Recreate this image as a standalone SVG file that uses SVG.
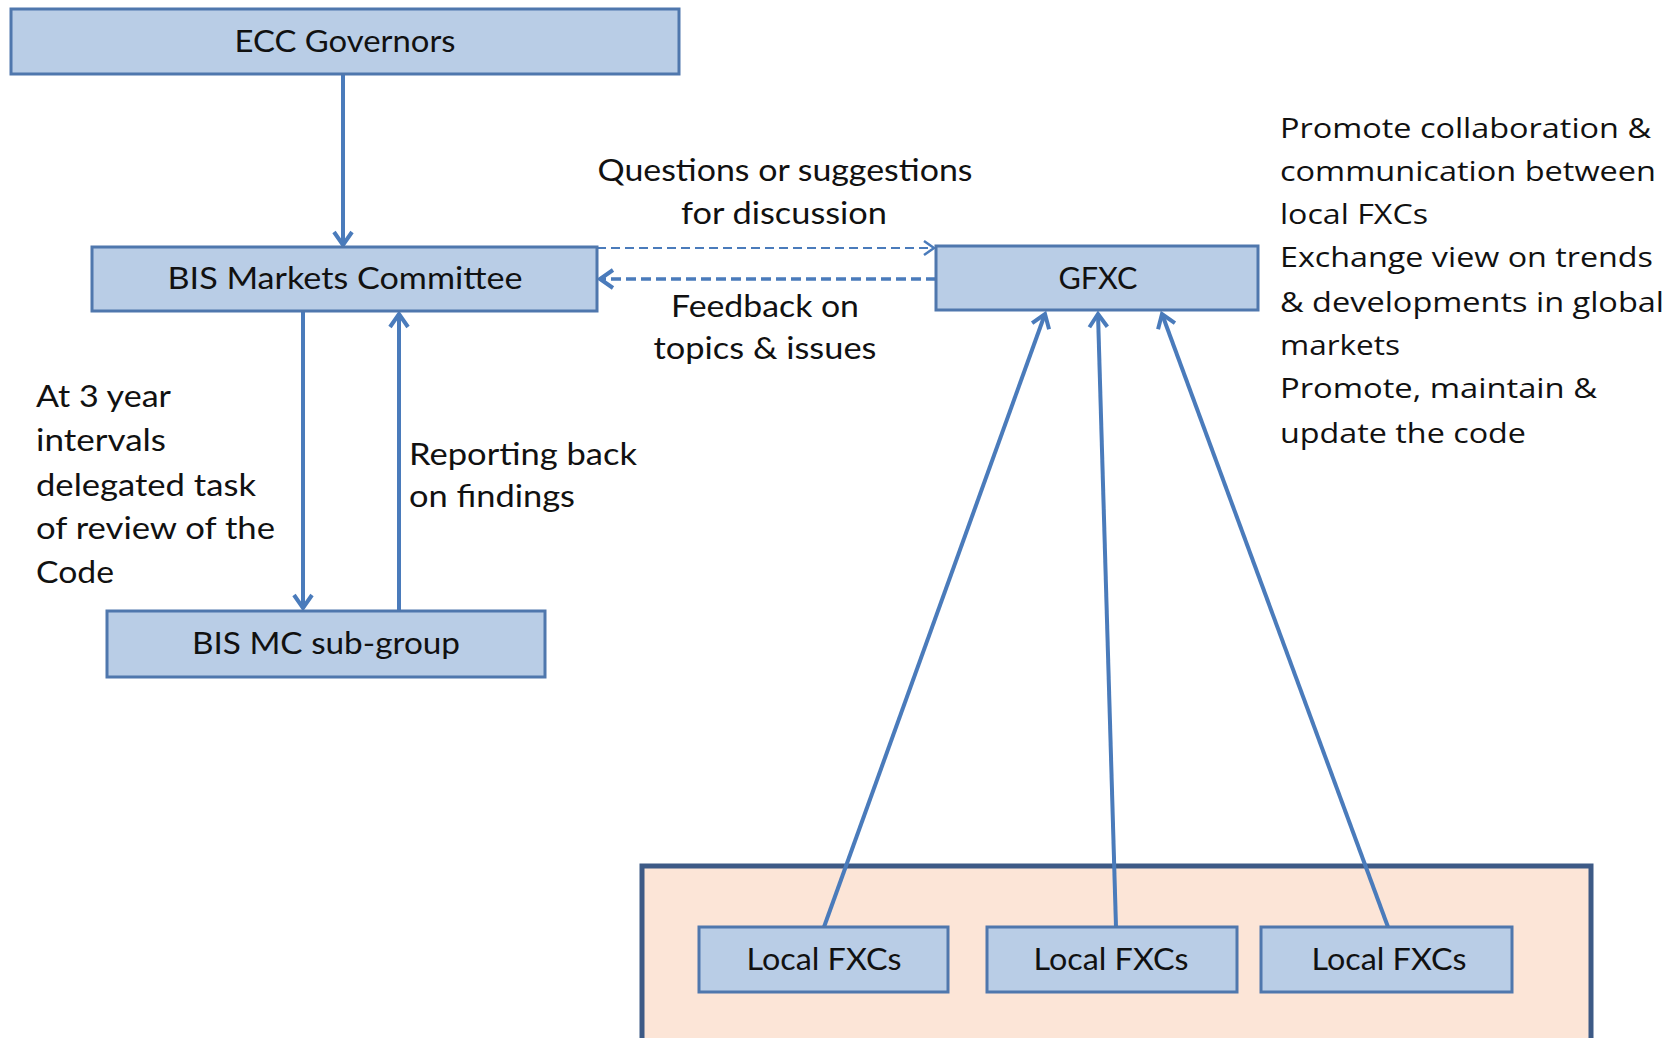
<svg xmlns="http://www.w3.org/2000/svg" width="1672" height="1038" viewBox="0 0 1672 1038">
<style>
.box{fill:#b9cde6;stroke:#4f77ad;stroke-width:3}
.t{font-family:Lato,"Open Sans","Liberation Sans",sans-serif;font-size:30px;fill:#111}
.r{font-family:"Open Sans",Lato,"Liberation Sans",sans-serif;font-size:28px;fill:#111}
.c{text-anchor:middle}
.ln{stroke:#4a7bbb;stroke-width:4;fill:none}
.ds{stroke:#4a7bbb;stroke-width:2;fill:none;stroke-dasharray:9 5}
.ds2{stroke:#4a7bbb;stroke-width:3.5;fill:none;stroke-dasharray:10 5}
</style>
<defs>
<marker id="ah" markerUnits="userSpaceOnUse" markerWidth="30" markerHeight="30" viewBox="-15 -15 30 30" refX="0" refY="0" orient="auto">
<path d="M -13 -9 L 0 0 L -13 9" fill="none" stroke="#4a7bbb" stroke-width="4"/>
</marker>
<marker id="ahs" markerUnits="userSpaceOnUse" markerWidth="30" markerHeight="30" viewBox="-15 -15 30 30" refX="0" refY="0" orient="auto">
<path d="M -10 -7 L 0 0 L -10 7" fill="none" stroke="#4a7bbb" stroke-width="2.5"/>
</marker>
</defs>
<rect width="1672" height="1038" fill="#fff"/>
<g id="local-container">
<rect x="642" y="866" width="949" height="180" fill="#fce5d7" stroke="#3d5a86" stroke-width="5"/>
</g>
<g id="connectors">
<line class="ln" x1="343" y1="75" x2="343" y2="245" marker-end="url(#ah)"/>
<line class="ln" x1="303" y1="311" x2="303" y2="608" marker-end="url(#ah)"/>
<line class="ln" x1="399" y1="611" x2="399" y2="314" marker-end="url(#ah)"/>
<line class="ds" x1="597" y1="248" x2="934" y2="248" marker-end="url(#ahs)"/>
<line class="ds2" x1="936" y1="279" x2="600" y2="279" marker-end="url(#ah)"/>
<line class="ln" x1="824" y1="927" x2="1045" y2="314" marker-end="url(#ah)"/>
<line class="ln" x1="1116" y1="927" x2="1098" y2="314" marker-end="url(#ah)"/>
<line class="ln" x1="1388" y1="927" x2="1162" y2="314" marker-end="url(#ah)"/>
</g>
<g id="ecc">
<rect class="box" x="11" y="9" width="668" height="65"/>
<text class="t c" x="345" y="52" textLength="221" lengthAdjust="spacingAndGlyphs">ECC Governors</text>
</g>
<g id="bis-mc">
<rect class="box" x="92" y="247" width="505" height="64"/>
<text class="t c" x="345" y="289" textLength="355" lengthAdjust="spacingAndGlyphs">BIS Markets Committee</text>
</g>
<g id="bis-sub">
<rect class="box" x="107" y="611" width="438" height="66"/>
<text class="t c" x="326" y="654" textLength="268" lengthAdjust="spacingAndGlyphs">BIS MC sub-group</text>
</g>
<g id="gfxc">
<rect class="box" x="936" y="246" width="322" height="64" stroke="#4670ab" stroke-width="4"/>
<text class="t c" x="1098" y="289" textLength="79" lengthAdjust="spacingAndGlyphs">GFXC</text>
</g>
<g id="local1">
<rect class="box" x="699" y="927" width="249" height="65"/>
<text class="t c" x="824" y="970" textLength="155" lengthAdjust="spacingAndGlyphs">Local FXCs</text>
</g>
<g id="local2">
<rect class="box" x="987" y="927" width="250" height="65"/>
<text class="t c" x="1111" y="970" textLength="155" lengthAdjust="spacingAndGlyphs">Local FXCs</text>
</g>
<g id="local3">
<rect class="box" x="1261" y="927" width="251" height="65"/>
<text class="t c" x="1389" y="970" textLength="155" lengthAdjust="spacingAndGlyphs">Local FXCs</text>
</g>
<g id="labels">
<text class="t c" x="785" y="181" textLength="375" lengthAdjust="spacingAndGlyphs">Questions or suggestions</text>
<text class="t c" x="784" y="224" textLength="206" lengthAdjust="spacingAndGlyphs">for discussion</text>
<text class="t c" x="765" y="317" textLength="188" lengthAdjust="spacingAndGlyphs">Feedback on</text>
<text class="t c" x="765" y="359" textLength="223" lengthAdjust="spacingAndGlyphs">topics &amp; issues</text>
<text class="t" x="36" y="407" textLength="135" lengthAdjust="spacingAndGlyphs">At 3 year</text>
<text class="t" x="36" y="451" textLength="130" lengthAdjust="spacingAndGlyphs">intervals</text>
<text class="t" x="36" y="496" textLength="220" lengthAdjust="spacingAndGlyphs">delegated task</text>
<text class="t" x="36" y="539" textLength="239" lengthAdjust="spacingAndGlyphs">of review of the</text>
<text class="t" x="36" y="583" textLength="78" lengthAdjust="spacingAndGlyphs">Code</text>
<text class="t" x="409" y="465" textLength="228" lengthAdjust="spacingAndGlyphs">Reporting back</text>
<text class="t" x="409" y="507" textLength="166" lengthAdjust="spacingAndGlyphs">on findings</text>
<text class="r" x="1280" y="138" textLength="371" lengthAdjust="spacingAndGlyphs">Promote collaboration &amp;</text>
<text class="r" x="1280" y="181" textLength="376" lengthAdjust="spacingAndGlyphs">communication between</text>
<text class="r" x="1280" y="224" textLength="148" lengthAdjust="spacingAndGlyphs">local FXCs</text>
<text class="r" x="1280" y="267" textLength="373" lengthAdjust="spacingAndGlyphs">Exchange view on trends</text>
<text class="r" x="1280" y="312" textLength="384" lengthAdjust="spacingAndGlyphs">&amp; developments in global</text>
<text class="r" x="1280" y="355" textLength="120" lengthAdjust="spacingAndGlyphs">markets</text>
<text class="r" x="1280" y="398" textLength="317" lengthAdjust="spacingAndGlyphs">Promote, maintain &amp;</text>
<text class="r" x="1280" y="443" textLength="246" lengthAdjust="spacingAndGlyphs">update the code</text>
</g>
</svg>
